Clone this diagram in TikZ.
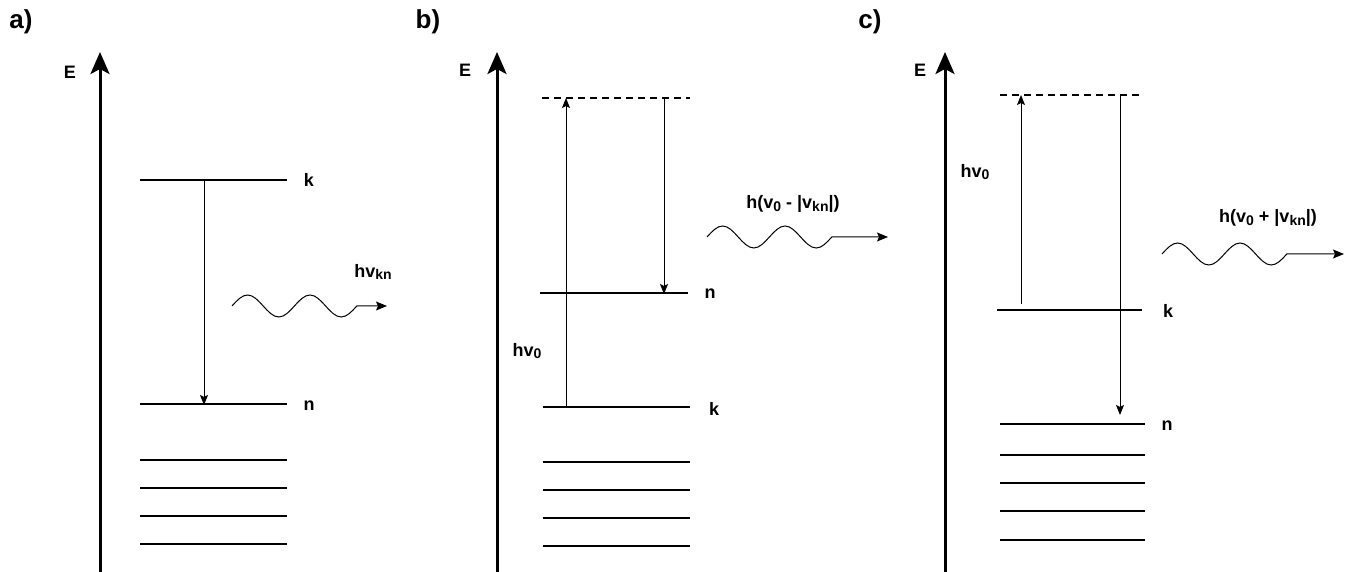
\documentclass[tikz,border=0pt]{standalone}
\usepackage{fontspec}
\setmainfont{Liberation Sans}
\usetikzlibrary{arrows.meta}

\tikzset{
  axis/.style={line width=3pt,-{Stealth[length=22pt,width=19pt,inset=5pt]}},
  level/.style={line width=2pt},
  virtual/.style={line width=2pt,dash pattern=on 7pt off 5pt},
  trans/.style={line width=1pt,-{Stealth[length=10pt,width=8pt,inset=2pt]}},
  photon/.style={line width=1pt,-{Stealth[length=11pt,width=9pt,inset=2pt]}},
  lbl/.style={font=\bfseries\fontsize{18}{21}\selectfont},
  panel/.style={font=\bfseries\fontsize{26}{30}\selectfont}
}

% lowered index in the label font
\newcommand{\idx}[1]{\raisebox{-0.3ex}{\fontsize{14}{16}\selectfont #1}}

% wavy photon: start x, middle y, tip x
\newcommand{\photonwave}[3]{%
  \draw[photon] (#1,#2) sin ++(15.6,-11) cos ++(15.6,11) sin ++(15.6,11) cos ++(15.6,-11)
    sin ++(15.6,-11) cos ++(15.6,11) sin ++(15.6,11) cos ++(15.6,-11) -- (#3,#2);}

\begin{document}
\begin{tikzpicture}[x=1pt,y=-1pt]
\useasboundingbox (0,0) rectangle (1353,572);

%% a)
\node[panel] (pa) at (21,22) {a)};
\node[lbl] (ea) at (70,72) {E};
\draw[axis] (100,572) -- (100,52);
\draw[level] (140,180) -- (287,180);
\draw[level] (140,404) -- (287,404);
\foreach \y in {460,488,516,544}
  \draw[level] (140,\y) -- (287,\y);
\node[lbl] (ka) at (309,180) {k};
\node[lbl] (na) at (309,406) {n};
\coordinate (atop) at (204,180);
\coordinate (abot) at (204,405);
\draw[trans] (atop) -- (abot);
\photonwave{232}{306}{387}
\node[lbl] (hva) at (373,272) {hv\idx{kn}};

%% b)
\node[panel] (pb) at (428,22) {b)};
\node[lbl] (eb) at (465,70) {E};
\draw[axis] (497,572) -- (497,52);
\draw[virtual] (542,98) -- (690,98);
\draw[level] (540,293) -- (688,293);
\draw[level] (543,407) -- (690,407);
\foreach \y in {462,490,518,546}
  \draw[level] (543,\y) -- (690,\y);
\node[lbl] (nb) at (710,294) {n};
\node[lbl] (kb) at (714,409) {k};
\coordinate (bup0) at (566,407);
\coordinate (bup1) at (566,98);
\coordinate (bdn0) at (664,98);
\coordinate (bdn1) at (664,294);
\draw[trans] (bup0) -- (bup1);
\draw[trans] (bdn0) -- (bdn1);
\node[lbl] (hvb) at (527,351) {hv\idx{0}};
\photonwave{707}{237}{888}
\node[lbl] (hb) at (793,204) {h(v\idx{0} - |v\idx{kn}|)};

%% c)
\node[panel] (pc) at (870,22) {c)};
\node[lbl] (ec) at (920,70) {E};
\draw[axis] (945,572) -- (945,52);
\draw[virtual] (1000,95) -- (1143,95);
\draw[level] (997,310) -- (1142,310);
\draw[level] (1000,424) -- (1145,424);
\foreach \y in {455,483,511,540}
  \draw[level] (1000,\y) -- (1145,\y);
\node[lbl] (kc) at (1168,311) {k};
\node[lbl] (nc) at (1167,426) {n};
\coordinate (cup0) at (1021,304);
\coordinate (cup1) at (1021,95);
\coordinate (cdn0) at (1120,95);
\coordinate (cdn1) at (1120,415);
\draw[trans] (cup0) -- (cup1);
\draw[trans] (cdn0) -- (cdn1);
\node[lbl] (hvc) at (975,172) {hv\idx{0}};
\photonwave{1162}{254}{1344}
\node[lbl] (hc) at (1268,218) {h(v\idx{0} + |v\idx{kn}|)};

\end{tikzpicture}
\end{document}
